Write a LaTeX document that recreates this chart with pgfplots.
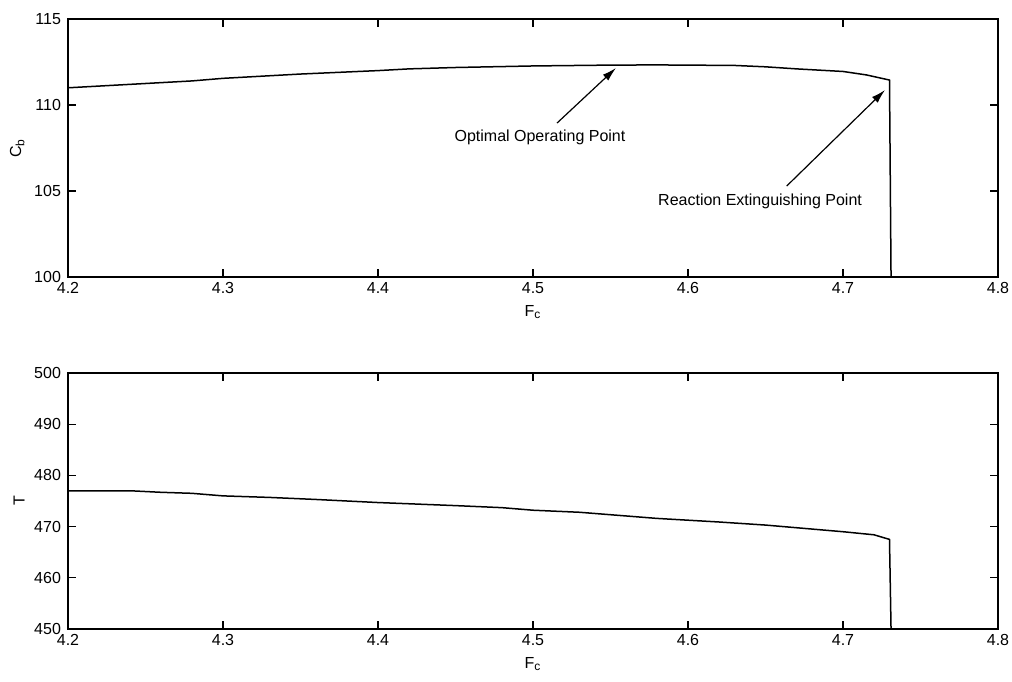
\documentclass[border=0pt]{standalone}
\usepackage{pgfplots}
\pgfplotsset{compat=1.18}
\usepackage{fontspec}
\setmainfont{Liberation Sans}
\usetikzlibrary{arrows.meta}
\begin{document}
\begin{tikzpicture}[font=\fontsize{8}{9.6}\selectfont]
\useasboundingbox (-34pt,-26pt) rectangle (472pt,314.5pt);
\pgfplotsset{
  every axis/.style={
    scale only axis,
    width=465pt,
    xmin=4.2, xmax=4.8,
    xtick={4.2,4.3,...,4.8},
    xticklabels={4.2,4.3,4.4,4.5,4.6,4.7,4.8},
    tick align=inside,
    major tick length=4pt,
    axis line style={line width=0.9pt},
    every tick/.style={black, line width=0.6pt},
    /pgf/number format/assume math mode=true,
    xlabel={F\textsubscript{c}},
    xlabel style={yshift=1pt},
    ylabel style={yshift=-2pt},
    xticklabel style={yshift=1pt},
    clip=true,
  },
}
\begin{axis}[
  at={(0pt,176pt)}, anchor=south west,
  height=129pt,
  ymin=100, ymax=115,
  ytick={100,105,110,115},
  ylabel={C\textsubscript{b}},
]
\addplot[black, line width=0.75pt] coordinates {
(4.200,111.0) (4.230,111.15) (4.260,111.3) (4.280,111.4) (4.300,111.55)
(4.350,111.8) (4.400,112.0) (4.420,112.1) (4.450,112.18) (4.500,112.27)
(4.550,112.32) (4.580,112.33) (4.630,112.3) (4.650,112.22) (4.670,112.1)
(4.700,111.95) (4.715,111.75) (4.730,111.45) (4.731,100.0) (4.800,100.0)
};
\draw[-{Latex[length=7pt,width=4pt]}, line width=0.6pt] (axis cs:4.5155,108.95) -- (axis cs:4.5535,112.15);
\draw[-{Latex[length=7pt,width=4pt]}, line width=0.6pt] (axis cs:4.6637,105.29) -- (axis cs:4.7271,110.87);
\node at (axis cs:4.5045,108.14) {Optimal Operating Point};
\node at (axis cs:4.6465,104.38) {Reaction Extinguishing Point};
\end{axis}
\begin{axis}[
  at={(0pt,0pt)}, anchor=south west,
  height=128pt,
  ymin=450, ymax=500,
  ytick={450,460,...,500},
  ylabel={T},
]
\addplot[black, line width=0.75pt] coordinates {
(4.200,477.0) (4.240,477.0) (4.260,476.7) (4.280,476.5) (4.300,476.0)
(4.330,475.7) (4.360,475.3) (4.400,474.7) (4.450,474.1) (4.480,473.7)
(4.500,473.2) (4.530,472.8) (4.580,471.6) (4.620,470.9) (4.650,470.3)
(4.700,469.0) (4.720,468.4) (4.730,467.5) (4.731,450.0) (4.800,450.0)
};
\end{axis}
\end{tikzpicture}
\end{document}
